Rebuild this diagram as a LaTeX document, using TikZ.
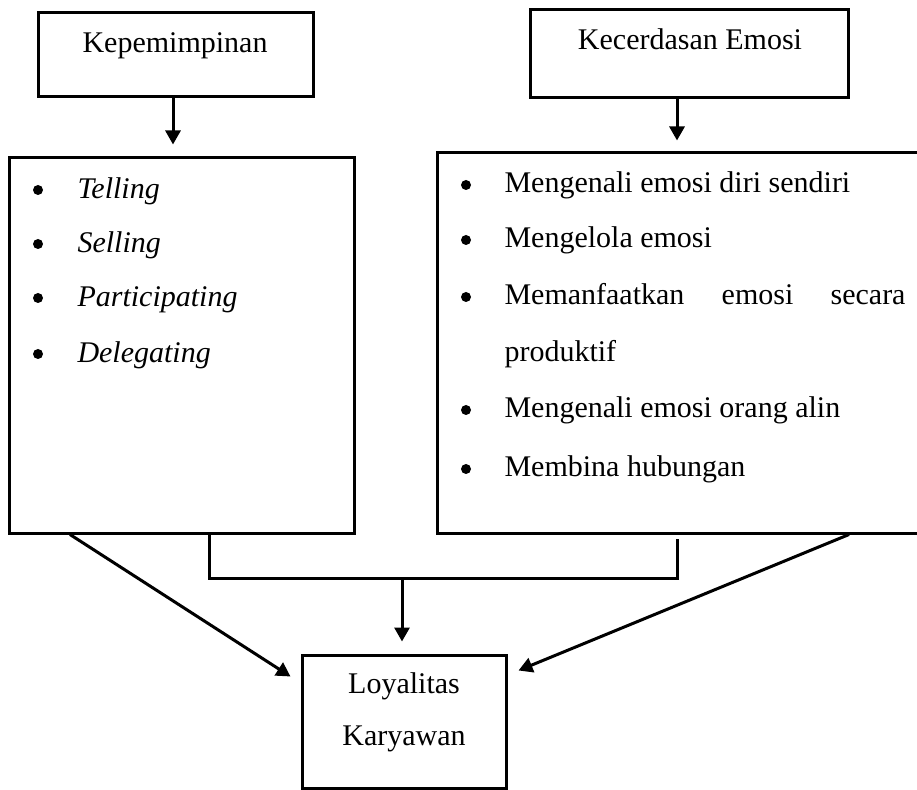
\documentclass[tikz,border=0pt]{standalone}
\usepackage{fontspec}
\setmainfont{Liberation Serif}
\usetikzlibrary{positioning,arrows.meta}

\begin{document}
\begin{tikzpicture}[x=0.4pt,y=-0.4pt,
box/.style={draw,line width=1.2pt,inner sep=0pt},
txt/.style={inner sep=0pt,anchor=base west,font=\fontsize{12}{14}\selectfont},
ctxt/.style={txt,anchor=base},
dot/.style={circle,fill,inner sep=0pt,minimum size=4pt},
arr/.style={line width=1.2pt,-{Triangle[length=5.6pt,width=6pt]}}]
\useasboundingbox (0,0) rectangle (917,790);
% boxes
\node[box,minimum width=109.6pt,minimum height=33.6pt] (lead) at (176,55) {};
\node[box,minimum width=127.2pt,minimum height=35.2pt] (emo) at (689,54) {};
\node[box,minimum width=137.6pt,minimum height=150pt] (leadlist) at (182,345.5) {};
\node[box,minimum width=195.2pt,minimum height=152pt] (emolist) at (681,343) {};
\node[box,minimum width=81.6pt,minimum height=53.2pt] (loyal) at (404,721.5) {};
% titles
\node[ctxt] (leadt) at (175,53) {Kepemimpinan};
\node[ctxt] (emot) at (690,50) {Kecerdasan Emosi};
\node[ctxt] (loyt1) at (404,693) {Loyalitas};
\node[ctxt] (loyt2) at (404,745) {Karyawan};
% lists
\foreach \y/\w [count=\i] in {199/Telling,253/Selling,307/Participating,363/Delegating}{
\node[dot] (lb\i) at (38,\y-9) {};
\node[txt] (li\i) at (77,\y) {\textit{\w}};
}
\foreach \y [count=\i] in {193,248,305,418,477}
\node[dot] (eb\i) at (466,\y-8) {};
\node[txt] (ei1) at (504,193) {Mengenali emosi diri sendiri};
\node[txt] (ei2) at (504,248) {Mengelola emosi};
\node[txt] (ei3) at (504,305) {\makebox[160.4pt][s]{Memanfaatkan\hfill emosi\hfill secara}};
\node[txt] (ei3b) at (504,362) {produktif};
\node[txt] (ei4) at (504,418) {Mengenali emosi orang alin};
\node[txt] (ei5) at (504,477) {Membina hubungan};
% connectors
\coordinate (join) at (402,578);
\draw[arr,shorten >=4.8pt] ([xshift=-1.2pt]lead.south) -- ([xshift=-1.2pt]lead.south |- leadlist.north);
\draw[arr,shorten >=4.4pt] ([xshift=-4.8pt]emo.south) -- ([xshift=-4.8pt]emo.south |- emolist.north);
\draw[line width=1.2pt] ([xshift=10.8pt]leadlist.south) |- (join) -| ([xshift=-1.6pt,yshift=-1.6pt]emolist.south);
\draw[arr,shorten >=4.8pt] (join) -- (join |- loyal.north);
\draw[arr] ([xshift=-44.8pt]leadlist.south) -- ([shift={(-10,23)}]loyal.north west);
\draw[arr] ([xshift=67.2pt]emolist.south) -- ([shift={(11,17)}]loyal.north east);
\end{tikzpicture}
\end{document}
